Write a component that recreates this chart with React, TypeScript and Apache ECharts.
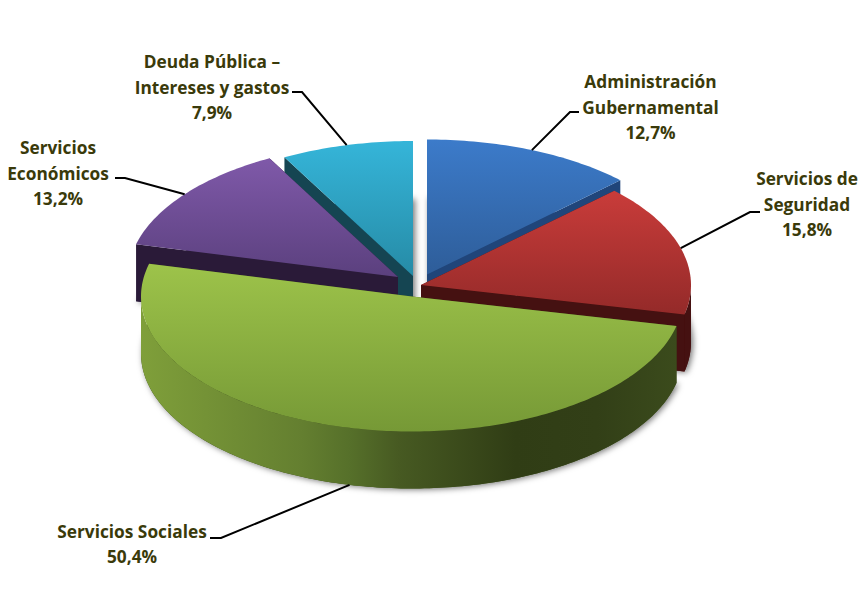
import React, { useEffect, useRef } from "react";
import * as echarts from "echarts";

// ---- data ----
const categories = [
  "Administración\nGubernamental",
  "Servicios de\nSeguridad",
  "Servicios Sociales",
  "Servicios\nEconómicos",
  "Deuda Pública –\nIntereses y gastos",
];
const shares = [12.7, 15.8, 50.4, 13.2, 7.9];

// ---- styling / layout ----
const topColors = [
  ["#3c7bca", "#2e5d99"],
  ["#c93c3a", "#942a29"],
  ["#9dc34a", "#769936"],
  ["#7f59a9", "#5b407e"],
  ["#35b5d9", "#268ba6"],
];
const wallColors = ["#20457a", "#451111", "#3a4a1c", "#2a1a38", "#154552"];
const greenWallStops: [number, string][] = [
  [0, "#7f9f3a"],
  [0.3, "#647f30"],
  [0.39, "#56702a"],
  [0.48, "#475a22"],
  [0.7, "#303d15"],
  [0.85, "#323f17"],
  [1, "#3b4b1c"],
];
const sliceOrigins = [
  [427, 274.5],
  [421, 285],
  [412, 296.5],
  [398, 277],
  [413, 276],
];
const sliceRx = [270, 270, 271, 270, 270];
const RY = 135;
const DEPTH = 57;
const drawRank = [1, 3, 4, 2, 0];
const labelCenters = [
  [650.5, 107],
  [807, 204],
  [132, 544],
  [58, 173],
  [212, 87],
];
const elbows = [
  [[570, 112], [579, 112]],
  [[750, 212], [760, 212]],
  [[221, 538], [210, 538]],
  [[125, 178], [115, 178]],
  [[302, 92], [292, 92]],
];
const TEXT_COLOR = "#3a3a0a";
const FONT = '"Open Sans"';

const total = shares.reduce((a, b) => a + b, 0);
const startAngles: number[] = [];
shares.reduce((acc, v, i) => {
  startAngles[i] = (acc / total) * 360;
  return acc + v;
}, 0);

function pt(i: number, deg: number, dy = 0): number[] {
  const t = (deg * Math.PI) / 180;
  const [ox, oy] = sliceOrigins[i];
  return [ox + sliceRx[i] * Math.sin(t), oy - RY * Math.cos(t) + dy];
}
function arc(i: number, a: number, b: number, dy = 0): number[][] {
  const pts: number[][] = [];
  const n = Math.max(2, Math.ceil(Math.abs(b - a)));
  for (let k = 0; k <= n; k++) pts.push(pt(i, a + ((b - a) * k) / n, dy));
  return pts;
}

function renderItem(params: any, api: any) {
  const i = params.dataIndex;
  const value = api.value(0);
  const a0 = startAngles[i];
  const a1 = a0 + (value / total) * 360;
  const mid = (a0 + a1) / 2;
  const [ox, oy] = sliceOrigins[i];
  const base = drawRank[i] * 10;
  const children: any[] = [];
  const wall = wallColors[i];

  // bottom face carrying the soft shadow
  children.push({
    type: "polygon",
    z2: base,
    shape: { points: [[ox, oy + DEPTH], ...arc(i, a0, a1, DEPTH)] },
    style: {
      fill: wall,
      shadowBlur: 6,
      shadowColor: "rgba(0,0,0,0.55)",
      shadowOffsetX: 2,
      shadowOffsetY: 1,
    },
  });

  // radial walls
  [a0, a1].forEach((ang) => {
    const p = pt(i, ang);
    children.push({
      type: "polygon",
      z2: base + 1,
      shape: { points: [[ox, oy], p, [p[0], p[1] + DEPTH], [ox, oy + DEPTH]] },
      style: { fill: wall },
    });
  });

  // outer wall: only the front-facing part of the rim (90..270 degrees)
  const f0 = Math.max(a0, 90);
  const f1 = Math.min(a1, 270);
  if (f1 > f0) {
    const upper = arc(i, f0, f1);
    const lower = arc(i, f1, f0, DEPTH);
    const fill =
      f1 - f0 > 90
        ? new echarts.graphic.LinearGradient(
            0,
            0,
            1,
            0,
            greenWallStops.map(([o, c]) => ({ offset: o, color: c })),
          )
        : wall;
    children.push({
      type: "polygon",
      z2: base + 2,
      shape: { points: [...upper, ...lower] },
      style: { fill },
    });
  }

  // top face
  children.push({
    type: "polygon",
    z2: base + 3,
    shape: { points: [[ox, oy], ...arc(i, a0, a1)] },
    style: {
      fill: new echarts.graphic.LinearGradient(0, 0, 0, 1, [
        { offset: 0, color: topColors[i][0] },
        { offset: 1, color: topColors[i][1] },
      ]),
    },
  });

  // leader line, anchored on the slice's mid angle
  const onFront = mid > 90 && mid < 270;
  const anchor = pt(i, mid, onFront ? DEPTH : 0);
  children.push({
    type: "polyline",
    z2: 100,
    shape: { points: [anchor, ...elbows[i]] },
    style: { fill: "none", stroke: "#000", lineWidth: 2 },
  });

  // label
  children.push({
    type: "text",
    z2: 101,
    x: labelCenters[i][0],
    y: labelCenters[i][1],
    style: {
      text: `${categories[i]}\n${value.toFixed(1).replace(".", ",")}%`,
      fill: TEXT_COLOR,
      font: `bold 17.3px ${FONT}`,
      lineHeight: 25.5,
      align: "center",
      verticalAlign: "middle",
    },
  });

  return { type: "group", children };
}

export default function App() {
  const ref = useRef<HTMLDivElement>(null);
  useEffect(() => {
    const chart = echarts.init(ref.current!, undefined, { renderer: "svg" });
    chart.setOption({
      animation: false,
      backgroundColor: "#fff",
      series: [
        {
          type: "custom",
          coordinateSystem: "none",
          renderItem,
          silent: true,
          data: shares.map((v, i) => ({ name: categories[i], value: [v] })),
        },
      ],
    });
    return () => chart.dispose();
  }, []);
  return (
    <div
      ref={ref}
      style={{ position: "fixed", left: 0, top: 0, width: 865, height: 607 }}
    />
  );
}
